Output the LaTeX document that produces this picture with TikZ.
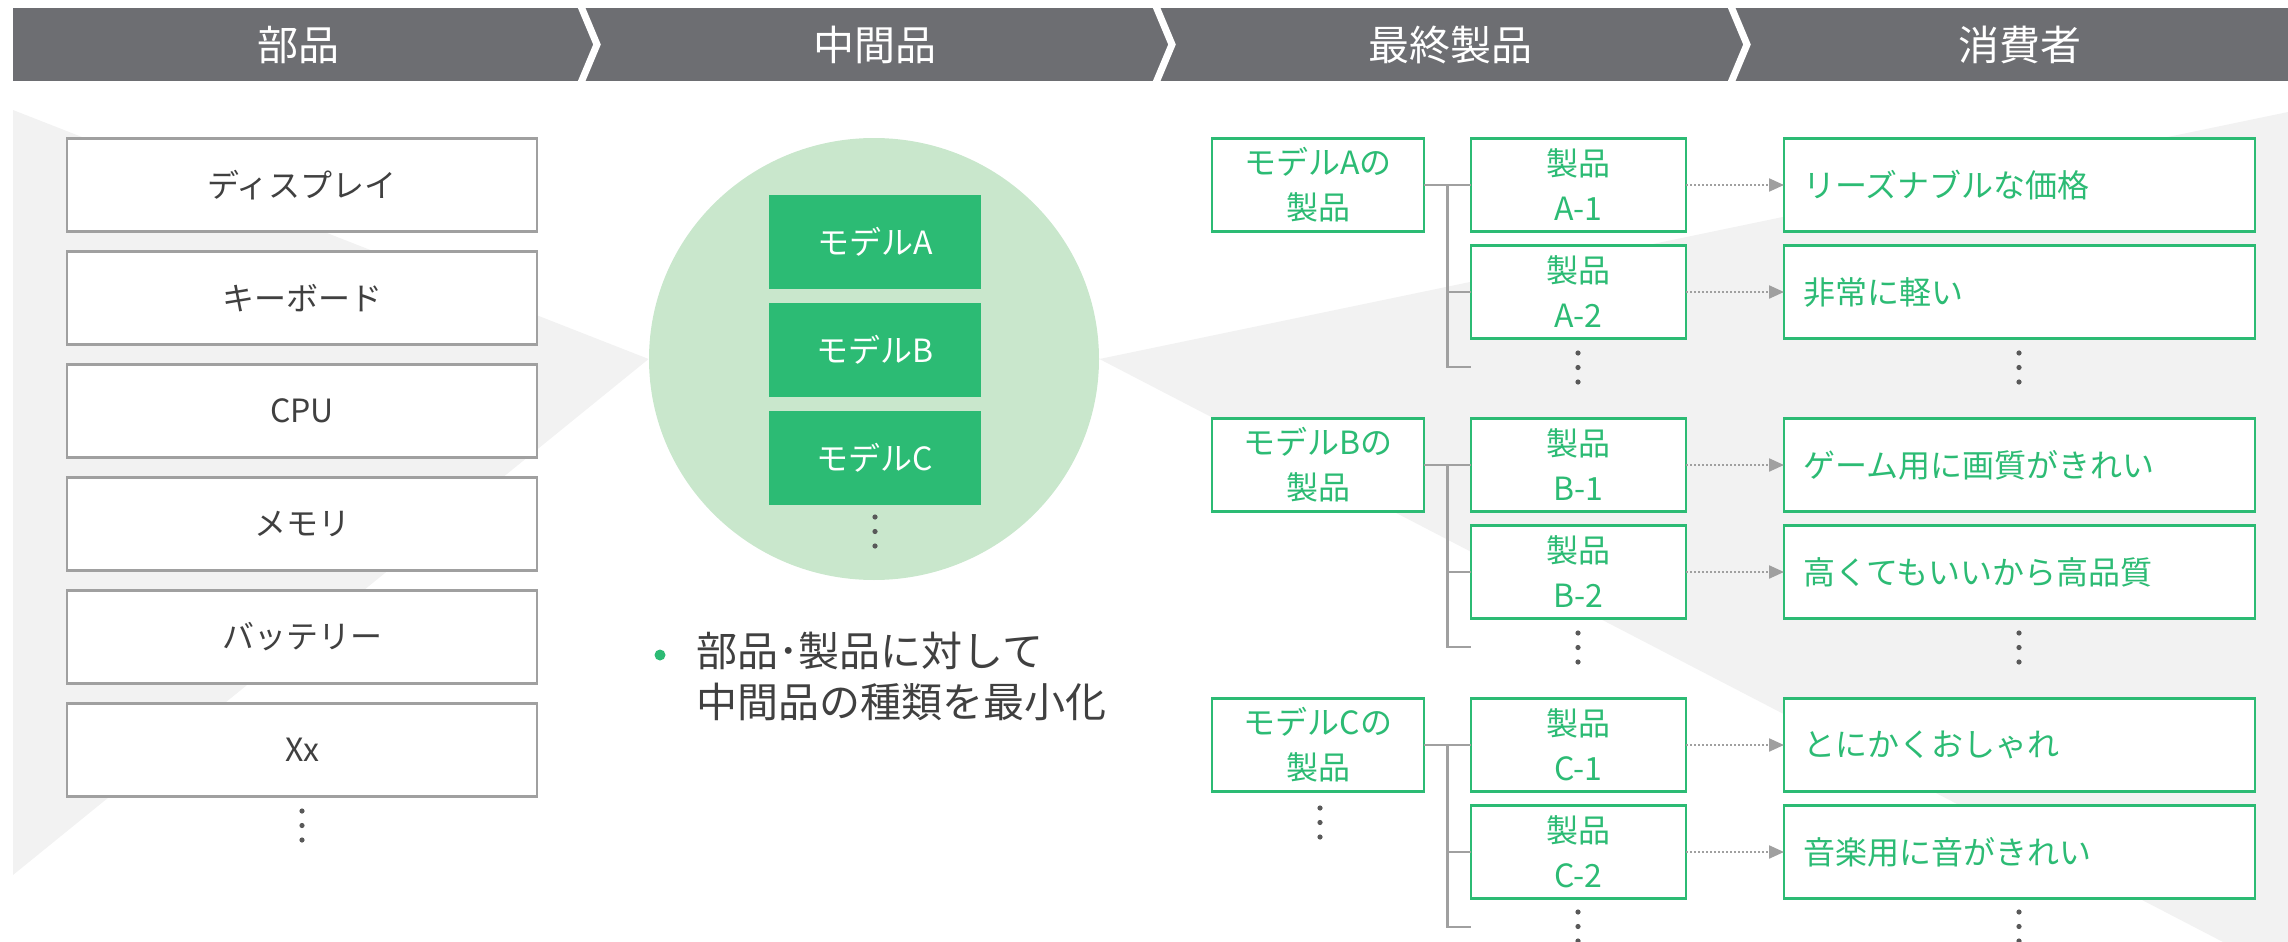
\documentclass[tikz,border=0pt]{standalone}
\usepackage{fontspec}
\setmainfont{Noto Sans CJK JP}
\usepackage{tikz}
\usetikzlibrary{
	shapes.geometric,
	arrows.meta,
	positioning,
	calc
}

\definecolor{headgray}{RGB}{109,110,114}
\definecolor{bggray}{RGB}{242,242,242}
\definecolor{hubgreen}{RGB}{201,231,204}
\definecolor{mgreen}{RGB}{44,187,116}
\definecolor{linegray}{RGB}{160,160,160}
\definecolor{textgray}{RGB}{64,64,64}
\definecolor{dotgray}{RGB}{89,89,89}

% three small dots below a column
\newcommand{\threedots}[2]{%
	\foreach \dy in {0,14.5,29} {\fill[dotgray] (#1,#2+\dy) circle (1.3pt);}}

\begin{document}
\begin{tikzpicture}[
				x=0.5pt, y=-0.5pt,
				head/.style={
					text=white, font=\fontsize{20.5}{24}\selectfont
				},
				partbox/.style={
					rectangle, draw=linegray, line width=1.1pt, fill=white,
					minimum width=235pt, minimum height=46.5pt, outer sep=0pt,
					text=textgray, font=\fontsize{16}{20}\selectfont
				},
				modelbox/.style={
					rectangle, fill=mgreen, minimum width=106pt, minimum height=47pt,
					text=white, font=\fontsize{16}{20}\selectfont
				},
				greenbox/.style={
					rectangle, draw=mgreen, line width=1.4pt, fill=white,
					minimum height=46.5pt, outer sep=0pt, align=center,
					text=mgreen, font=\fontsize{16}{22.5}\selectfont
				},
				familybox/.style={
					greenbox, minimum width=106pt
				},
				productbox/.style={
					greenbox, minimum width=107.5pt
				},
				needbox/.style={
					greenbox, text width=216pt, align=left, inner xsep=9.75pt
				},
				tree/.style={draw=linegray, line width=1.2pt},
				arrow/.style={
					linegray, line width=1.1pt, dash pattern=on 1pt off 1pt,
					-{Triangle[length=7.5pt, width=6.5pt]}
				}
				]
				
				\useasboundingbox (0,0) rectangle (2288,942);
				
				% hub of intermediate products
				\node[ellipse, fill=hubgreen, minimum width=225pt, minimum height=221pt, inner sep=0pt] (hub) at (874,359) {};
				
				% gray funnels
				\fill[bggray] (13,110) -- (hub.west) -- (13,875) -- cycle;
				\fill[bggray] (hub.east) -- (2288,112) -- (2288,942) -- (2223,942) -- cycle;
				
				% header
				\fill[headgray] (13,8) rectangle (2288,81);
				\foreach \x in {580,1155,1730}
					\draw[white, line width=3.5pt] (\x,4) -- (\x+17,44.5) -- (\x,85);
				\node[head] (hParts) at (298,45) {部品};
				\node[head] (hInter) at (875,45) {中間品};
				\node[head] (hFinal) at (1450,45) {最終製品};
				\node[head] (hUser) at (2020,45) {消費者};
				
				% parts
				\node[partbox] (display) at (302,185) {ディスプレイ};
				\node[partbox, below=10pt of display] (keyboard) {キーボード};
				\node[partbox, below=10pt of keyboard] (cpu) {CPU};
				\node[partbox, below=10pt of cpu] (memory) {メモリ};
				\node[partbox, below=10pt of memory] (battery) {バッテリー};
				\node[partbox, below=10pt of battery] (partXx) {Xx};
				\threedots{302}{811}
				
				% models (inside hub)
				\node[modelbox] (modelA) at (875,242) {モデルA};
				\node[modelbox, below=6.5pt of modelA] (modelB) {モデルB};
				\node[modelbox, below=6.5pt of modelB] (modelC) {モデルC};
				\threedots{875}{517}
				
				% summary
				\fill[mgreen] (660,655) circle (2.75pt);
				\node[anchor=west, align=left, inner sep=0pt, text=textgray,
					font=\fontsize{20.5}{25.5}\selectfont] (summary) at (696,676.5)
					{部品･製品に対して\\中間品の種類を最小化};
				
				% products of model A
				\node[familybox] (famA) at (1318,185) {モデルAの\\製品};
				\node[productbox, right=23.5pt of famA] (prodA1) {製品\\A-1};
				\node[productbox, below=7pt of prodA1] (prodA2) {製品\\A-2};
				\node[needbox, right=49pt of prodA1] (needA1) {リーズナブルな価格};
				\node[needbox, right=49pt of prodA2] (needA2) {非常に軽い};
				\threedots{1578}{353}
				\threedots{2019}{353}
				
				% products of model B
				\node[familybox, below=93.5pt of famA] (famB) {モデルBの\\製品};
				\node[productbox, right=23.5pt of famB] (prodB1) {製品\\B-1};
				\node[productbox, below=7pt of prodB1] (prodB2) {製品\\B-2};
				\node[needbox, right=49pt of prodB1] (needB1) {ゲーム用に画質がきれい};
				\node[needbox, right=49pt of prodB2] (needB2) {高くてもいいから高品質};
				\threedots{1578}{633}
				\threedots{2019}{633}
				
				% products of model C
				\node[familybox, below=93.5pt of famB] (famC) {モデルCの\\製品};
				\node[productbox, right=23.5pt of famC] (prodC1) {製品\\C-1};
				\node[productbox, below=7pt of prodC1] (prodC2) {製品\\C-2};
				\node[needbox, right=49pt of prodC1] (needC1) {とにかくおしゃれ};
				\node[needbox, right=49pt of prodC2] (needC2) {音楽用に音がきれい};
				\threedots{1320}{808}
				\threedots{1578}{912}
				\threedots{2019}{912}
				
				% tree lines
				\coordinate (trunkA) at ($(famA.east)!0.5!(prodA1.west)$);
				\coordinate (tailA) at ($(prodA2.west)+(0,75)$);
				\coordinate (trunkB) at ($(famB.east)!0.5!(prodB1.west)$);
				\coordinate (tailB) at ($(prodB2.west)+(0,75)$);
				\coordinate (trunkC) at ($(famC.east)!0.5!(prodC1.west)$);
				\coordinate (tailC) at ($(prodC2.west)+(0,75)$);
				\draw[tree] (famA) -- (prodA1);
				\draw[tree] (trunkA) |- (prodA2.west);
				\draw[tree] (trunkA) |- (tailA);
				\draw[tree] (famB) -- (prodB1);
				\draw[tree] (trunkB) |- (prodB2.west);
				\draw[tree] (trunkB) |- (tailB);
				\draw[tree] (famC) -- (prodC1);
				\draw[tree] (trunkC) |- (prodC2.west);
				\draw[tree] (trunkC) |- (tailC);
				
				% dotted arrows to consumers
				\draw[arrow] (prodA1) -- (needA1);
				\draw[arrow] (prodA2) -- (needA2);
				\draw[arrow] (prodB1) -- (needB1);
				\draw[arrow] (prodB2) -- (needB2);
				\draw[arrow] (prodC1) -- (needC1);
				\draw[arrow] (prodC2) -- (needC2);
			\end{tikzpicture}
\end{document}
